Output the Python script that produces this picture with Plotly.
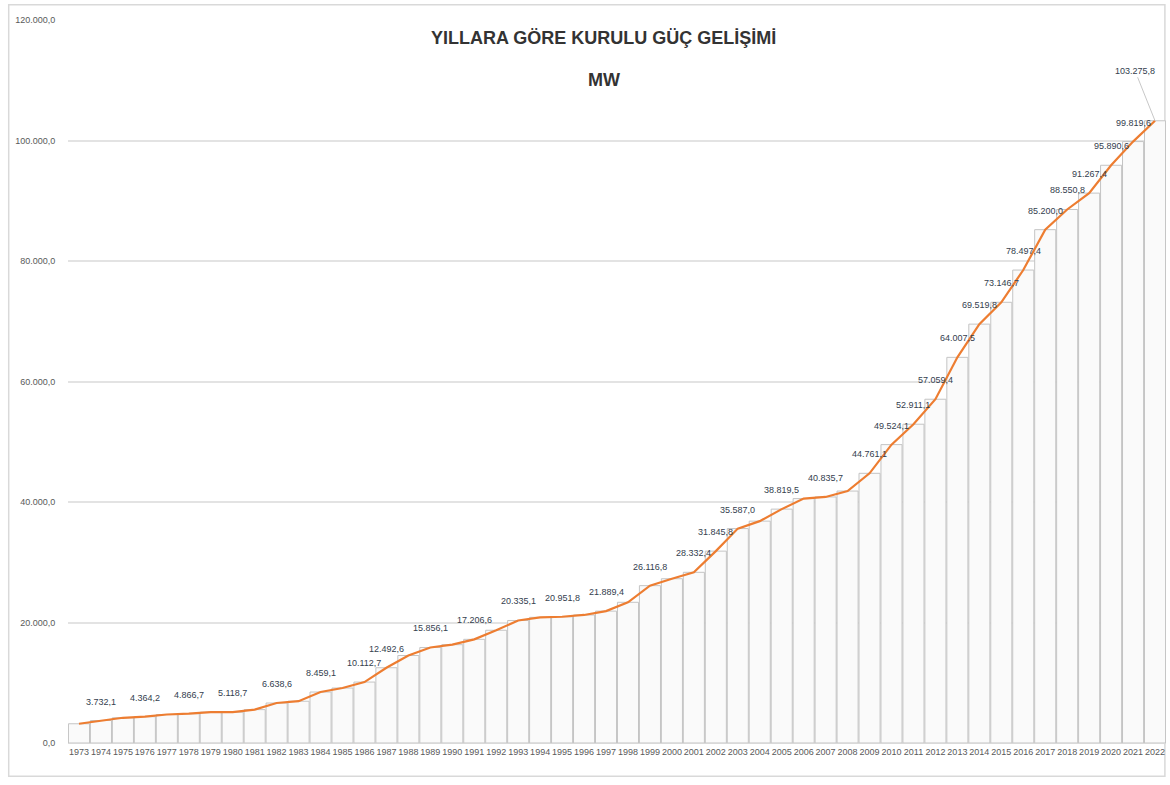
import plotly.graph_objects as go

years = list(range(1973, 2023))
capacity_mw = [
    3193.6, 3732.1, 4186.6, 4364.2, 4727.1, 4866.7, 5118.7, 5118.7, 5537.7, 6638.6,
    6935.1, 8459.1, 9121.6, 10112.7, 12492.6, 14520.6, 15856.1, 16317.6, 17206.6, 18716.1,
    20335.1, 20859.8, 20951.8, 21249.4, 21889.4, 23354.0, 26116.8, 27264.1, 28332.4, 31845.8,
    35587.0, 36824.0, 38819.5, 40564.8, 40835.7, 41817.2, 44761.1, 49524.1, 52911.1, 57059.4,
    64007.5, 69519.8, 73146.7, 78497.4, 85200.0, 88550.8, 91267.4, 95890.6, 99819.6, 103275.8,
]
labeled_years = [
    1974, 1976, 1978, 1980, 1982, 1984, 1986, 1987, 1989, 1991,
    1993, 1995, 1997, 1999, 2001, 2002, 2003, 2005, 2007, 2009,
    2010, 2011, 2012, 2013, 2014, 2015, 2016, 2017, 2018, 2019,
    2020, 2021, 2022,
]
y_ticks = [0, 20000, 40000, 60000, 80000, 100000, 120000]
title_line1 = "YILLARA GÖRE KURULU GÜÇ GELİŞİMİ"
title_line2 = "MW"

FONT = "Liberation Sans Narrow, Arial Narrow, Liberation Sans, Arial, sans-serif"


def tr_fmt(v):
    s = f"{v:,.1f}"
    return s.replace(",", "X").replace(".", ",").replace("X", ".")


fig = go.Figure()
fig.add_trace(go.Bar(
    x=years, y=capacity_mw,
    marker=dict(color="rgba(250,250,250,1)", line=dict(color="#c4c4c4", width=1)),
    hoverinfo="skip", showlegend=False,
))
fig.add_trace(go.Scatter(
    x=years, y=capacity_mw, mode="lines",
    line=dict(color="#ED7D31", width=2.2),
    showlegend=False,
))

label_font = dict(family=FONT, size=9, color="#34404e")
last_year = labeled_years[-1]
for yr, v in zip(years, capacity_mw):
    if yr not in labeled_years:
        continue
    if yr == last_year:
        fig.add_annotation(
            x=yr, y=v, text=tr_fmt(v), showarrow=True, arrowhead=0,
            arrowwidth=1, arrowcolor="#c8c8c8", ax=-20, ay=-50,
            font=label_font,
        )
    else:
        fig.add_annotation(
            x=yr, y=v, text=tr_fmt(v), showarrow=False,
            yshift=19, xanchor="center", yanchor="middle",
            font=label_font,
        )

fig.add_annotation(
    xref="paper", yref="paper", x=0.488, y=0.975, text=f"<b>{title_line1}</b>",
    showarrow=False, xanchor="center", yanchor="middle",
    font=dict(family=FONT, size=18, color="#333333"),
)
fig.add_annotation(
    xref="paper", yref="paper", x=0.488, y=0.917, text=f"<b>{title_line2}</b>",
    showarrow=False, xanchor="center", yanchor="middle",
    font=dict(family=FONT, size=18, color="#333333"),
)

fig.add_shape(type="rect", xref="paper", yref="paper", x0=-0.054, x1=0.999, y0=-0.046, y1=1.021,
              line=dict(color="#d9d9d9", width=1.5), fillcolor="rgba(0,0,0,0)", layer="below")

fig.update_layout(
    width=1170, height=785,
    margin=dict(l=68, r=4, t=20, b=42, autoexpand=False),
    paper_bgcolor="white", plot_bgcolor="white",
    separators=",.",
    bargap=0.04,
    xaxis=dict(
        range=[1972.5, 2022.5], tickvals=years, showgrid=False, zeroline=False, showline=True,
        linecolor="#d9d9d9", ticks="", tickangle=0,
        tickfont=dict(family=FONT, size=9, color="#595959"),
    ),
    yaxis=dict(
        range=[0, 120000], tickvals=y_ticks, tickformat=",.1f",
        showgrid=True, gridcolor="#e3e3e3", gridwidth=1.5, zeroline=False,
        ticks="outside", ticklen=10, tickcolor="white",
        tickfont=dict(family=FONT, size=9, color="#595959"),
    ),
    hovermode=False,
)

fig.write_html(
    "out.html",
    config={"displayModeBar": False},
    post_script="document.body.style.margin='0';document.body.style.overflow='hidden';",
)
